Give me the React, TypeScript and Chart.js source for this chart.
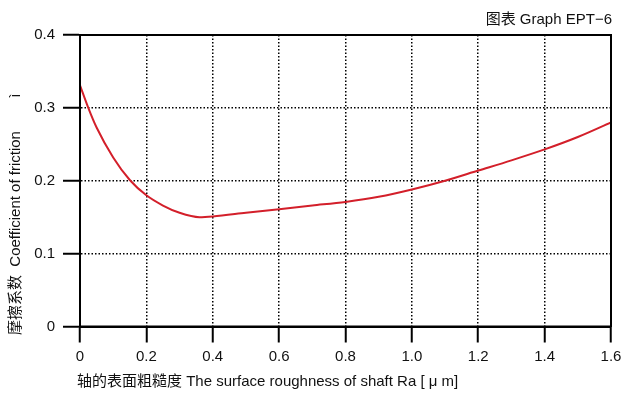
import React, { useEffect, useRef } from "react";
import { Chart, registerables } from "chart.js";

Chart.register(...registerables);

const roughness = [0, 0.025, 0.05, 0.1, 0.15, 0.2, 0.25, 0.3, 0.36, 0.4, 0.5, 0.6, 0.7, 0.8, 0.9, 1.0, 1.1, 1.2, 1.3, 1.4, 1.5, 1.6];
const friction = [0.331, 0.3, 0.273, 0.232, 0.201, 0.18, 0.166, 0.156, 0.150, 0.151, 0.156, 0.161, 0.166, 0.171, 0.178, 0.188, 0.2, 0.214, 0.228, 0.243, 0.26, 0.28];

const xTickLabels = ["0", "0.2", "0.4", "0.6", "0.8", "1.0", "1.2", "1.4", "1.6"];
const yTickLabels = ["0", "0.1", "0.2", "0.3", "0.4"];

const xTitle = "轴的表面粗糙度 The surface roughness of shaft Ra [ μ m]";
const yTitle = "摩擦系数  Coefficient of friction        ì";
const cornerLabel = "图表 Graph EPT−6";

const FONT = "'Liberation Sans', Arial, 'Noto Sans CJK SC', sans-serif";

const textPlugin = {
  id: "textPlugin",
  afterDraw(chart: any) {
    const { ctx, chartArea } = chart;
    ctx.save();
    ctx.setLineDash([]);
    ctx.strokeStyle = "#000";
    ctx.lineWidth = 2;
    ctx.strokeRect(chartArea.left, chartArea.top, chartArea.right - chartArea.left, chartArea.bottom - chartArea.top);
    ctx.fillStyle = "#111";
    ctx.font = `15px ${FONT}`;
    ctx.textAlign = "right";
    ctx.textBaseline = "middle";
    ctx.fillText(cornerLabel, 612, 20);
    ctx.textAlign = "left";
    ctx.fillText(xTitle, 77, 382);
    ctx.translate(16, 335);
    ctx.rotate(-Math.PI / 2);
    ctx.textAlign = "left";
    ctx.fillText(yTitle, 0, 0);
    ctx.restore();
  },
};

export default function App() {
  const ref = useRef<HTMLCanvasElement | null>(null);
  useEffect(() => {
    if (!ref.current) return;
    const chart = new Chart(ref.current, {
      type: "line",
      data: {
        datasets: [
          {
            data: roughness.map((x, i) => ({ x, y: friction[i] })),
            borderColor: "#d31f2a",
            borderWidth: 2,
            pointRadius: 0,
            cubicInterpolationMode: "monotone",
            fill: false,
          },
        ],
      },
      options: {
        responsive: false,
        animation: false,
        layout: { padding: { left: 0, right: 10, top: 35, bottom: 0 } },
        plugins: { legend: { display: false }, tooltip: { enabled: false }, title: { display: false } },
        scales: {
          x: {
            type: "linear",
            min: 0,
            max: 1.6,
            afterFit: (s: any) => {
              s.height = 67.5;
              s.paddingRight = 0;
              s.paddingLeft = 0;
            },
            ticks: {
              stepSize: 0.2,
              color: "#111",
              font: { family: FONT, size: 15 },
              padding: 5,
              maxRotation: 0,
              autoSkip: false,
              callback: (_v: any, i: number) => xTickLabels[i],
            },
            grid: {
              color: "#000",
              lineWidth: 1.5,
              tickColor: "#000",
              tickWidth: 2,
              tickLength: 16,
              tickBorderDash: [],
            },
            border: { display: true, color: "#000", width: 2, dash: [1.5, 2] },
          },
          y: {
            type: "linear",
            min: 0,
            max: 0.4,
            afterFit: (s: any) => {
              s.width = 80;
              s.paddingTop = 0;
              s.paddingBottom = 0;
            },
            ticks: {
              stepSize: 0.1,
              color: "#111",
              font: { family: FONT, size: 15 },
              padding: 8,
              callback: (_v: any, i: number) => yTickLabels[i],
            },
            grid: {
              color: "#000",
              lineWidth: 1.5,
              tickColor: "#000",
              tickWidth: 2,
              tickLength: 17,
              tickBorderDash: [],
            },
            border: { display: true, color: "#000", width: 2, dash: [1.5, 2] },
          },
        },
      },
      plugins: [textPlugin],
    } as any);
    return () => chart.destroy();
  }, []);
  return (
    <div style={{ position: "absolute", left: 0, top: 0, width: 621, height: 394, background: "#fff" }}>
      <canvas ref={ref} width={621} height={394} style={{ width: 621, height: 394 }} />
    </div>
  );
}
